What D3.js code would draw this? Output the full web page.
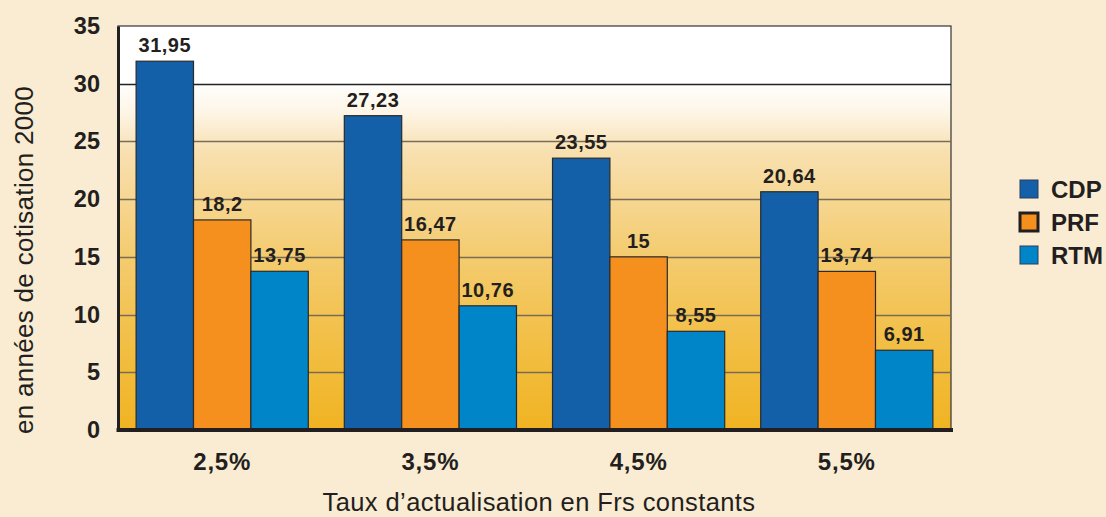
<!DOCTYPE html>
<html>
<head>
<meta charset="utf-8">
<script src="https://cdn.jsdelivr.net/npm/d3@7"></script>
<style>
  html, body { margin: 0; padding: 0; background: #FAECD2; }
  svg { display: block; font-family: "Liberation Sans", Arial, sans-serif; }
</style>
</head>
<body>
<svg id="chart" width="1106" height="517"></svg>
<script>
// Discount rates (categories)
const categories = ["2,5%", "3,5%", "4,5%", "5,5%"];
// Series names
const seriesNames = ["CDP", "PRF", "RTM"];
// Values per series, one per category
const cdpValues = [31.95, 27.23, 23.55, 20.64];
const prfValues = [18.2, 16.47, 15, 13.74];
const rtmValues = [13.75, 10.76, 8.55, 6.91];
// Value-axis ticks
const yTicks = [0, 5, 10, 15, 20, 25, 30, 35];

const seriesValues = [cdpValues, prfValues, rtmValues];
const colors = { CDP: "#1360A8", PRF: "#F5901F", RTM: "#0085C9" };
const ink = "#231F20";

const svg = d3.select("#chart");
const plot = { left: 118, right: 951, top: 26, bottom: 430 };

const x0 = d3.scaleBand().domain(categories).range([plot.left, plot.right]).paddingInner(0.173).paddingOuter(0.087);
const x1 = d3.scaleBand().domain(seriesNames).range([0, x0.bandwidth()]).padding(0);
const y = d3.scaleLinear().domain([0, 35]).range([plot.bottom, plot.top]);

// Plot-area background gradient
const defs = svg.append("defs");
const grad = defs.append("linearGradient").attr("id", "bg").attr("x1", 0).attr("y1", 0).attr("x2", 0).attr("y2", 1);
[
  [0, "#FFFFFF"], [0.14, "#FFFFFF"], [0.22, "#FDF4E4"], [0.31, "#F8E0B0"],
  [0.55, "#F4CD73"], [0.8, "#F2BE42"], [1, "#F0B322"]
].forEach(([o, c]) => grad.append("stop").attr("offset", o).attr("stop-color", c));

svg.append("rect")
  .attr("x", plot.left).attr("y", plot.top)
  .attr("width", plot.right - plot.left).attr("height", plot.bottom - plot.top)
  .attr("fill", "url(#bg)")
  .attr("stroke", "#333").attr("stroke-width", 1.2);

// Horizontal grid lines
svg.append("g").selectAll("line")
  .data(yTicks.filter(t => t > 0 && t < 35))
  .join("line")
  .attr("x1", plot.left).attr("x2", plot.right)
  .attr("y1", d => Math.round(y(d)) + 0.5).attr("y2", d => Math.round(y(d)) + 0.5)
  .attr("stroke", d => d === 30 ? "#222" : "#7A6B55")
  .attr("stroke-width", 1.3);

// Bars
const groups = svg.append("g").selectAll("g")
  .data(categories)
  .join("g")
  .attr("transform", c => `translate(${x0(c)},0)`);

groups.selectAll("rect")
  .data((c, i) => seriesNames.map((s, j) => ({ s, v: seriesValues[j][i] })))
  .join("rect")
  .attr("x", d => x1(d.s))
  .attr("y", d => y(d.v))
  .attr("width", x1.bandwidth())
  .attr("height", d => y(0) - y(d.v))
  .attr("fill", d => colors[d.s])
  .attr("stroke", "#2A2A2A").attr("stroke-width", 1.2);

// Value labels
groups.selectAll("text")
  .data((c, i) => seriesNames.map((s, j) => ({ s, v: seriesValues[j][i] })))
  .join("text")
  .attr("x", d => x1(d.s) + x1.bandwidth() / 2)
  .attr("y", d => y(d.v) - 9)
  .attr("text-anchor", "middle")
  .attr("font-size", 20).attr("font-weight", "bold").attr("fill", ink)
  .attr("letter-spacing", 0.5)
  .text(d => String(d.v).replace(".", ","));

// Axes
const yAxis = d3.axisLeft(y).tickValues(yTicks).tickSize(0).tickPadding(18);
svg.append("g").attr("transform", `translate(${plot.left},0)`).call(yAxis)
  .call(g => g.select(".domain").attr("stroke", ink).attr("stroke-width", 3))
  .call(g => g.selectAll("text").attr("font-size", 23.5).attr("font-weight", "bold").attr("fill", ink)
    .attr("font-family", "Liberation Sans, Arial, sans-serif"));

const xAxis = d3.axisBottom(x0).tickSize(0).tickPadding(23);
svg.append("g").attr("transform", `translate(0,${plot.bottom})`).call(xAxis)
  .call(g => g.select(".domain").attr("d", `M${plot.left - 1.5},0H${plot.right + 2}`)
    .attr("stroke", ink).attr("stroke-width", 4))
  .call(g => g.selectAll("text").attr("font-size", 24).attr("font-weight", "bold").attr("fill", ink)
    .attr("letter-spacing", 0.8)
    .attr("font-family", "Liberation Sans, Arial, sans-serif"));

// Axis titles
svg.append("text")
  .attr("transform", `translate(33,260) rotate(-90)`)
  .attr("text-anchor", "middle")
  .attr("font-size", 26).attr("fill", ink)
  .attr("letter-spacing", 0.3)
  .text("en années de cotisation 2000");

svg.append("text")
  .attr("x", 539).attr("y", 511)
  .attr("text-anchor", "middle")
  .attr("font-size", 25.5).attr("fill", ink)
  .attr("letter-spacing", 0.4)
  .text("Taux d’actualisation en Frs constants");

// Legend
const legend = svg.append("g").selectAll("g")
  .data(seriesNames)
  .join("g")
  .attr("transform", (d, i) => `translate(1020,${180 + i * 33})`);

legend.append("rect")
  .attr("width", 18).attr("height", 18)
  .attr("fill", d => colors[d])
  .attr("stroke", d => d === "PRF" ? ink : "#2A3A5A")
  .attr("stroke-width", d => d === "PRF" ? 3 : 1);

legend.append("text")
  .attr("x", 31).attr("y", 18)
  .attr("font-size", 24).attr("font-weight", "bold").attr("fill", ink)
  .text(d => d);
</script>
</body>
</html>
